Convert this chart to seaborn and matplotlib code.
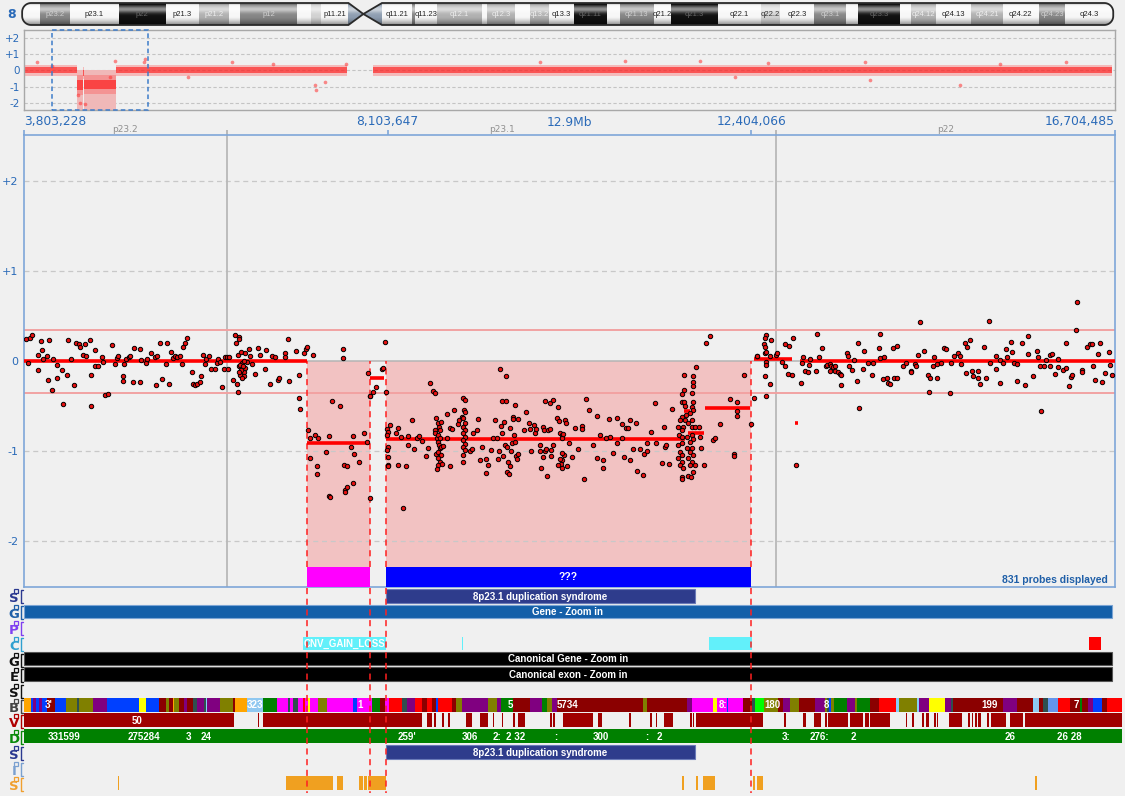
import numpy as np
import matplotlib
matplotlib.use("Agg")
import matplotlib.pyplot as plt
import matplotlib.transforms as mtrans
from matplotlib.patches import Rectangle, Polygon
import seaborn as sns

# ======================= DATA =======================
chrom = "8"
chrom_len_mb = 146.364
region_start = 3803228
region_end = 16704485

band_name = ["p23.3", "p23.2", "p23.1", "p22", "p21.3", "p21.2", "p21.1", "p12", "p11.23", "p11.22",
             "p11.21", "p11.1", "q11.1", "q11.21", "q11.22", "q11.23", "q12.1", "q12.2", "q12.3", "q13.1",
             "q13.2", "q13.3", "q21.11", "q21.12", "q21.13", "q21.2", "q21.3", "q22.1", "q22.2", "q22.3",
             "q23.1", "q23.2", "q23.3", "q24.11", "q24.12", "q24.13", "q24.21", "q24.22", "q24.23", "q24.3"]
band_start = [0.0, 2.2, 6.2, 12.7, 19.1, 23.5, 27.5, 29.0, 36.7, 38.5, 39.9, 43.6, 45.6, 48.1, 52.2, 52.6,
              55.5, 61.6, 62.2, 66.0, 68.0, 70.5, 73.9, 78.3, 80.1, 84.6, 86.9, 93.3, 99.0, 101.6, 106.2,
              110.5, 112.1, 117.7, 119.2, 122.5, 127.3, 131.5, 136.4, 139.9]
band_end = band_start[1:] + [146.364]
band_stain = ["gneg", "gpos75", "gneg", "gpos100", "gneg", "gpos50", "gneg", "gpos75", "gneg", "gpos25",
              "gneg", "acen", "acen", "gneg", "gpos75", "gneg", "gpos50", "gneg", "gpos50", "gneg",
              "gpos50", "gneg", "gpos100", "gneg", "gpos75", "gneg", "gpos100", "gneg", "gpos25", "gneg",
              "gpos75", "gneg", "gpos100", "gneg", "gpos50", "gneg", "gpos50", "gneg", "gpos75", "gneg"]

# whole-chromosome overview (segment means and spreads, Mb)
ov_seg_start = [0.15, 7.15, 7.90, 8.08, 12.40, 46.90]
ov_seg_end = [7.15, 7.90, 8.08, 12.40, 43.40, 146.20]
ov_seg_mean = [0.00, -0.90, -0.15, -0.88, 0.00, 0.00]
ov_seg_sd = [0.18, 0.30, 0.18, 0.30, 0.18, 0.18]
ov_out_mb = [1.7, 3.8, 7.26, 7.53, 8.2, 11.6, 12.2, 16.1, 16.2, 22.0, 27.9, 33.5, 39.1, 39.25, 40.4, 43.3,
             69.3, 80.8, 90.9, 95.5, 100.0, 113.0, 113.7, 125.8, 131.2, 140.0]
ov_out_val = [0.55, 0.3, -1.5, -2.0, -2.1, -0.4, 0.6, 0.55, 0.7, -0.4, 0.5, 0.4, -0.9, -1.2, -0.7, 0.4,
              0.5, 0.6, 0.6, -0.4, 0.45, 0.5, -0.6, -0.9, 0.4, 0.5]

# probes in the zoomed window (position Mb, log2 ratio)
probe_mb = [
 3.83, 3.87, 3.90, 3.85, 3.97, 3.97, 4.01, 4.02, 4.03, 4.08, 4.09, 4.10, 4.13, 4.15, 4.19, 4.19, 4.25, 4.26,
 4.31, 4.32, 4.36, 4.39, 4.42, 4.45, 4.47, 4.50, 4.52, 4.54, 4.58, 4.59, 4.60, 4.64, 4.64, 4.68, 4.72, 4.74,
 4.76, 4.80, 4.84, 4.88, 4.90, 4.92, 4.97, 4.97, 4.99, 5.01, 5.04, 5.06, 5.09, 5.10, 5.17, 5.18, 5.19, 5.25,
 5.26, 5.31, 5.35, 5.37, 5.38, 5.41, 5.44, 5.48, 5.50, 5.52, 5.54, 5.57, 5.59, 5.61, 5.65, 5.67, 5.68, 5.71,
 5.73, 5.79, 5.80, 5.82, 5.85, 5.88, 5.90, 5.92, 5.94, 5.96, 5.99, 6.02, 6.06, 6.08, 6.10, 6.12, 6.14, 6.17,
 6.18, 6.20, 6.22, 6.23, 6.28, 6.30, 6.31, 6.32, 6.33, 6.34, 6.35, 6.33, 6.35, 6.36, 6.38, 6.40, 6.40, 6.42,
 6.44, 6.46, 6.48, 6.50, 6.53, 6.57, 6.59, 6.65, 6.67, 6.71, 6.74, 6.77, 6.81, 6.82, 6.89, 6.89, 6.92, 6.94,
 7.02, 7.06, 7.06, 7.07, 7.11, 7.14, 7.15, 7.22, 6.36, 6.37, 6.39, 6.41, 6.34, 6.38, 6.37, 6.42,
 7.16, 7.19, 7.19, 7.24, 7.27, 7.27, 7.28, 7.37, 7.41, 7.41, 7.42, 7.44, 7.54, 7.58, 7.58, 7.59, 7.60, 7.60,
 7.62, 7.62, 7.67, 7.69, 7.69, 7.70, 7.76, 7.82, 7.86, 7.87, 7.89, 7.89,
 7.90, 7.93, 7.97, 8.04, 8.07, 8.08, 8.05,
 8.10, 8.11, 8.10, 8.11, 8.10, 8.11, 8.11, 8.11, 8.13, 8.20, 8.23, 8.23, 8.26, 8.29, 8.32, 8.35, 8.35, 8.39,
 8.41, 8.45, 8.47, 8.51, 8.56, 8.58, 8.61, 8.64, 8.66, 8.66, 8.66, 8.68, 8.68, 8.69, 8.70, 8.71, 8.72, 8.73,
 8.70, 8.72, 8.70, 8.71, 8.72, 8.70, 8.73, 8.70, 8.72, 8.70, 8.69, 8.74, 8.75, 8.76, 8.80, 8.80, 8.84, 8.84,
 8.86, 8.89, 8.93, 8.95, 8.98, 9.00, 9.02, 9.01, 9.02, 9.00, 9.02, 9.00, 9.02, 9.00, 9.02, 9.00, 9.02, 9.00,
 9.02, 8.99, 9.00, 9.08, 9.10, 9.11, 9.16, 9.17, 9.20, 9.22, 9.27, 9.27, 9.29, 9.32, 9.35, 9.37, 9.40, 9.41,
 9.42, 9.43, 9.44, 9.45, 9.46, 9.47, 9.48, 9.49, 9.50, 9.50, 9.51, 9.52, 9.53, 9.54, 9.55, 9.55, 9.56, 9.57,
 9.58, 9.59, 9.60, 9.61, 9.61, 9.62, 9.63, 9.64, 9.65, 9.71, 9.74, 9.77, 9.79, 9.80, 9.83, 9.85, 9.86, 9.90,
 9.91, 9.92, 9.94, 9.94, 9.95, 9.96, 9.97, 9.98, 9.99, 10.00, 10.02, 10.02, 10.03, 10.04, 10.06, 10.06,
 10.11, 10.12, 10.13, 10.14, 10.16, 10.17, 10.18, 10.19, 10.16, 10.17, 10.15, 10.12, 10.16, 10.14, 10.20,
 10.21, 10.23, 10.25, 10.28, 10.32, 10.36, 10.40, 10.40, 10.42, 10.45, 10.49, 10.53, 10.58, 10.58, 10.61,
 10.65, 10.65, 10.69, 10.72, 10.73, 10.77, 10.82, 10.82,
 10.87, 10.92, 10.94, 10.97, 11.04, 10.88, 11.01, 10.90, 10.97, 11.05, 11.09, 11.13, 11.12, 11.17, 11.17,
 11.22, 11.26, 11.28, 11.37, 11.38, 11.40, 11.35, 11.43, 11.47,
 11.61, 11.75, 11.72, 11.72, 11.71, 11.70, 11.61, 11.59, 11.58, 11.61, 11.62, 11.72, 11.70, 11.72, 11.68,
 11.63, 11.58, 11.56, 11.62, 11.70, 11.66, 11.60, 11.54, 11.58, 11.70, 11.74, 11.55, 11.58, 11.64, 11.70,
 11.72, 11.58, 11.54, 11.68, 11.64, 11.70, 11.56, 11.68, 11.58, 11.72, 11.54, 11.66, 11.58, 11.70, 11.56,
 11.68, 11.60, 11.74, 11.72, 11.58, 11.58, 11.66, 11.69,
 11.79, 11.80, 11.81, 11.85, 11.87, 11.92, 11.95, 11.98, 12.03, 12.15, 12.24, 12.24, 12.24, 12.20, 12.20,
 12.32, 12.40, 12.44, 12.58, 12.47, 12.47, 12.56, 12.58, 12.56, 12.55, 12.57, 12.58, 12.58, 12.58, 12.57,
 12.62, 12.64, 12.62, 12.70, 12.71, 12.77, 12.80, 12.80, 12.85, 12.84, 12.88, 12.90, 12.99, 13.01, 13.00,
 13.04, 13.07, 13.09, 13.10, 13.18, 13.17, 13.20, 12.93,
 13.24, 13.29, 13.30, 13.33, 13.34, 13.35, 13.37, 13.39, 13.39, 13.43, 13.45, 13.47, 13.46, 13.53, 13.55,
 13.56, 13.59, 13.62, 13.65, 13.67, 13.68, 13.72, 13.74, 13.78, 13.83, 13.84, 13.91, 13.93, 13.93, 13.96,
 13.97, 14.01, 14.02, 14.04, 14.08, 14.09, 14.13, 14.13, 14.20, 14.23, 14.29, 14.29, 14.34, 14.35, 14.38,
 14.40, 14.45, 14.49, 14.50, 14.52, 14.55, 14.56, 14.60, 14.60, 14.65, 14.68, 14.71, 14.75, 14.77, 14.80,
 14.85, 14.87, 14.88, 14.93, 14.94, 14.96, 14.99, 15.01, 15.02, 15.09, 15.09, 15.11, 15.16, 15.18, 15.22,
 15.23, 15.30, 15.30, 15.34, 15.35, 15.38, 15.42, 15.43, 15.47, 15.49, 15.51, 15.54, 15.55, 15.60, 15.64,
 15.67, 15.67, 15.74, 15.78, 15.79, 15.82, 15.83, 15.86, 15.89, 15.94, 15.94, 15.96, 16.00, 16.03, 16.03,
 16.09, 16.12, 16.13, 16.16, 16.19, 16.20, 16.24, 16.26, 16.32, 16.32, 16.37, 16.41, 16.43, 16.45, 16.47,
 16.50, 16.53, 16.55, 16.59, 16.63, 16.65, 16.67]
probe_log2 = [
 0.24, 0.25, 0.29, -0.02, 0.07, -0.10, 0.22, 0.12, 0.02, 0.06, -0.21, 0.23, -0.32, 0.02, -0.04, -0.19, -0.10, -0.48,
 -0.16, 0.23, 0.02, -0.27, 0.20, 0.19, 0.15, 0.07, 0.19, 0.05, 0.23, -0.50, -0.15, 0.12, -0.05, -0.06, 0.04, -0.01,
 -0.38, -0.37, 0.18, -0.03, 0.03, 0.06, -0.17, -0.22, -0.03, 0.02, 0.04, 0.06, -0.23, 0.14, 0.13, -0.23, 0.01, -0.02,
 0.02, 0.09, 0.04, -0.27, 0.06, 0.20, -0.20, -0.03, 0.20, -0.25, 0.10, 0.03, 0.06, 0.04, 0.06, -0.03, 0.15, 0.20,
 0.26, -0.12, -0.25, -0.27, -0.25, -0.23, -0.17, 0.07, -0.03, 0.02, 0.06, -0.09, -0.09, -0.02, 0.02, -0.01, -0.29, -0.09,
 0.04, 0.04, -0.09, 0.04, -0.21, 0.29, 0.20, -0.25, -0.34, 0.27, 0.24, 0.07, -0.06, -0.15, -0.02, -0.12, -0.17, -0.08,
 -0.01, 0.13, 0.06, -0.03, -0.14, 0.14, 0.07, -0.09, 0.12, -0.26, 0.06, 0.04, -0.21, -0.19, 0.09, 0.04, 0.24, -0.22,
 0.11, -0.15, -0.41, -0.53, 0.09, 0.13, 0.16, 0.07, -0.04, -0.10, -0.05, 0.00, -0.12, -0.19, 0.10, 0.09,
 -0.77, -0.86, -1.08, -0.82, -1.17, -1.25, -0.86, -1.01, -0.83, -1.50, -1.51, -0.44, -0.50, 0.13, 0.03, -1.16, -1.43, -1.45,
 -1.17, -1.40, -0.95, -0.83, -1.36, -1.03, -1.12, -0.80, -0.90, -0.13, -0.39, -1.52,
 -0.39, -0.34, -0.29, -0.09, 0.21, -0.34, -0.08,
 -0.75, -0.79, -0.82, -0.95, -0.99, -1.07, -1.16, -1.17, -0.71, -0.80, -0.74, -1.16, -0.84, -1.63, -1.17, -0.83, -0.93, -0.66,
 -0.98, -0.85, -0.83, -0.89, -1.05, -0.97, -0.24, -0.33, -0.35, -0.77, -0.80, -0.63, -1.03, -0.86, -0.69, -0.73, -0.77, -0.68,
 -0.82, -0.86, -0.90, -0.93, -0.97, -1.01, -1.04, -1.08, -1.12, -1.16, -1.20, -0.95, -1.14, -0.94, -0.86, -0.59, -1.17, -0.74,
 -0.76, -0.54, -0.70, -0.65, -0.62, -0.41, -0.43, -0.54, -0.57, -0.63, -0.69, -0.73, -0.77, -0.80, -0.84, -0.88, -0.92, -0.96,
 -0.99, -1.04, -1.12, -1.00, -0.98, -0.80, -0.77, -0.64, -1.10, -0.96, -1.09, -1.24, -1.16, -0.99, -0.86, -0.66, -0.86, -1.09,
 -1.00, -0.09, -0.72, -0.80, -0.44, -1.06, -0.68, -0.93, -0.17, -0.44, -0.95, -1.23, -1.12, -1.25, -1.17, -0.74, -1.00, -0.91,
 -0.62, -0.64, -0.82, -0.49, -0.90, -1.06, -1.09, -1.03, -0.64, -0.77, -0.57, -0.69, -0.75, -1.00, -0.71, -0.80, -0.76, -0.93,
 -1.00, -1.19, -1.07, -0.73, -0.77, -1.00, -0.44, -0.98, -1.28, -0.77, -0.47, -0.76, -1.06, -0.99, -0.43, -0.93,
 -0.63, -0.51, -0.67, -0.80, -0.82, -0.86, -0.81, -1.04, -1.10, -1.02, -1.14, -1.16, -1.19, -1.09, -0.66,
 -0.69, -1.17, -0.91, -1.07, -0.74, -0.98, -0.72, -0.76, -1.31, -0.42, -0.54, -0.93, -0.61, -1.08, -0.82,
 -1.10, -1.19, -0.86, -0.64, -0.84, -1.02, -0.63, -0.91,
 -0.70, -0.74, -0.74, -0.66, -0.69, -0.86, -0.98, -1.07, -1.10, -1.22, -0.98, -1.03, -1.27, -1.00, -0.91,
 -0.79, -0.47, -0.91, -0.73, -0.95, -0.93, -1.13, -1.14, -0.53,
 -0.16, -0.07, -0.17, -0.23, -0.28, -0.35, -0.32, -0.37, -0.45, -0.45, -0.50, -0.45, -0.51, -0.54, -0.58,
 -0.60, -0.62, -0.66, -0.66, -0.66, -0.69, -0.73, -0.73, -0.77, -0.73, -0.73, -0.82, -0.84, -0.84, -0.82,
 -0.87, -0.91, -0.93, -0.90, -0.97, -0.97, -1.01, -1.01, -1.04, -1.04, -1.08, -1.08, -1.12, -1.12, -1.16,
 -1.16, -1.19, -1.16, -1.23, -1.29, -1.31, -1.28, -1.29,
 -0.73, -0.84, -0.97, -1.16, 0.20, 0.28, -0.88, -0.86, -0.70, -0.42, -0.45, -0.55, -0.61, -1.03, -1.06,
 -0.16, -0.70, -0.41, -0.39, 0.06, 0.05, 0.09, 0.29, 0.26, 0.19, 0.15, 0.10, -0.01, -0.04, -0.17,
 -0.25, 0.23, 0.06, 0.07, 0.09, -0.01, -0.05, 0.19, 0.17, -0.14, -0.16, 0.26, -0.24, 0.04, -0.02,
 -0.11, -0.12, -0.04, 0.02, 0.30, -0.11, 0.04, -1.16,
 0.14, -0.06, -0.04, -0.11, -0.03, -0.06, -0.07, -0.06, -0.11, -0.12, -0.14, -0.27, -0.16, 0.09, 0.05,
 -0.06, -0.10, 0.01, -0.22, 0.20, -0.52, -0.09, 0.11, -0.02, -0.16, -0.02, 0.14, 0.30, 0.03, -0.20,
 0.04, -0.19, -0.24, -0.25, 0.14, -0.19, 0.17, -0.19, -0.06, -0.02, -0.11, -0.12, -0.03, -0.06, 0.07,
 0.43, 0.11, -0.16, -0.34, -0.19, -0.06, 0.04, -0.03, -0.19, -0.02, 0.14, 0.13, -0.36, -0.02, 0.05,
 0.09, 0.05, -0.03, 0.20, -0.13, 0.15, 0.23, -0.11, -0.17, -0.11, -0.19, -0.25, 0.16, -0.19, 0.44,
 -0.02, 0.06, -0.09, 0.01, -0.24, -0.02, 0.13, 0.04, 0.21, 0.10, -0.02, -0.03, -0.22, 0.20, -0.27,
 0.08, 0.28, -0.17, 0.11, 0.04, -0.06, -0.55, -0.06, 0.01, 0.07, -0.06, 0.08, -0.14, 0.02, -0.07,
 -0.10, -0.08, 0.20, -0.28, -0.18, -0.16, 0.34, 0.66, -0.10, -0.12, 0.16, 0.19, 0.19, -0.06, -0.21,
 0.08, 0.20, -0.23, -0.13, 0.10, -0.04, -0.16]

# segmentation (start Mb, end Mb, mean log2)
seg_start = [3.803, 7.149, 7.894, 8.083, 11.61, 11.66, 11.86, 12.43, 12.92, 12.98]
seg_end = [7.149, 7.894, 8.060, 11.62, 11.68, 11.84, 12.39, 12.88, 12.96, 16.704]
seg_mean = [0.00, -0.91, -0.19, -0.87, -0.55, -0.80, -0.52, 0.02, -0.69, 0.00]

# called aberrations
call_start = [7.149, 8.083]
call_end = [7.894, 12.400]
call_kind = ["loss", "loss_unknown"]
call_text = ["", "???"]
threshold_hi = 0.344
threshold_lo = -0.356
probe_count = 831

# annotation tracks
track_letters = ["S", "G", "P", "C", "G", "E", "S", "B", "V", "D", "S", "I", "S"]
syndrome_start, syndrome_end = 8.084, 11.737
syndrome_name = "8p23.1 duplication syndrome"
gene_start, gene_end = 3.803, 16.669
cnv_start = [7.102, 8.978, 11.903]
cnv_end = [8.084, 8.990, 12.412]
cnv_label = ["CNV_GAIN_LOSS", "", ""]
cnv_red_start, cnv_red_end = 16.397, 16.539

b_start = [3.803, 3.883, 3.913, 3.945, 3.984, 4.012, 4.072, 4.170, 4.300, 4.434, 4.454, 4.623, 4.781, 5.167,
           5.242, 5.403, 5.482, 5.521, 5.562, 5.577, 5.636, 5.695, 5.734, 5.798, 5.845, 5.932, 5.955, 5.971,
           6.121, 6.278, 6.298, 6.444, 6.633, 6.799, 6.929, 6.949, 6.988, 7.047, 7.106, 7.126, 7.165, 7.185,
           7.283, 7.390, 7.697, 7.737, 7.915, 8.013, 8.072, 8.114, 8.269, 8.329, 8.427, 8.506, 8.565, 8.624,
           8.675, 8.702, 8.861, 8.912, 8.979, 9.293, 9.400, 9.440, 9.589, 9.787, 9.925, 9.984, 10.043, 10.102,
           11.126, 11.166, 11.639, 11.699, 11.954, 11.994, 12.112, 12.131, 12.309, 12.408, 12.447, 12.553,
           12.722, 12.781, 12.861, 12.971, 13.156, 13.275, 13.302, 13.326, 13.342, 13.381, 13.532, 13.630,
           13.657, 13.807, 13.917, 14.115, 14.154, 14.366, 14.390, 14.508, 14.694, 14.761, 14.792, 15.383,
           15.541, 15.731, 15.758, 15.809, 15.856, 15.915, 16.034, 16.172, 16.290, 16.310, 16.388, 16.440,
           16.547, 16.606]
b_end_last = 16.787
b_cat = ["OR", "BL", "PU", "BL", "PU", "BL", "DR", "BL", "OL", "DS", "OL", "PU", "BL", "YE",
         "BL", "DR", "OL", "DR", "OR", "OL", "DR", "PU", "DR", "DS", "PU", "DS", "LB", "PU",
         "OL", "DR", "OR", "SK", "GR", "MA", "DS", "MA", "DS", "MA", "RE", "MA", "YE", "MA",
         "OL", "MA", "BL", "MA", "GR", "DR", "MA", "RE", "DS", "PU", "RE", "DR", "RE", "DR",
         "BL", "RE", "DR", "OL", "PU", "OL", "PU", "GR", "DR", "PU", "GR", "OL", "PU", "DR",
         "OL", "DR", "PU", "MA", "YE", "MA", "BL", "MA", "DR", "DS", "LI", "OL",
         "DR", "PU", "OL", "DR", "PU", "OL", "DS", "BL", "OL", "GR", "PU", "OL",
         "GR", "DR", "RE", "LB", "OL", "LB", "PU", "YE", "PU", "DS", "DR", "PU",
         "DR", "LB", "SK", "DR", "DS", "CF", "RE", "DR", "GR", "DR", "PU", "BL",
         "DR", "RE"]
b_text_mb = [4.10, 6.535, 7.776, 9.55, 10.236, 12.07, 12.65, 13.29, 15.226, 16.25]
b_text = ["3'", "323", "1", "5", "5734", "8:", "180", "8", "199", "7"]

v_start = [3.803, 6.570, 6.629, 8.569, 8.655, 8.743, 8.821, 9.030, 9.195, 9.346, 9.452, 9.589, 9.648, 10.023,
           10.062, 10.173, 10.594, 10.961, 11.206, 11.277, 11.371, 11.679, 11.718, 11.746, 12.794, 13.012,
           13.145, 13.275, 13.314, 13.571, 13.748, 13.775, 13.807, 14.229, 14.307, 14.426, 14.466, 14.567,
           14.596, 14.745, 14.970, 15.010, 15.049, 15.088, 15.187, 15.234, 15.463, 15.640]
v_end = [6.286, 6.588, 8.510, 8.628, 8.672, 8.770, 8.841, 9.101, 9.294, 9.361, 9.471, 9.609, 9.728, 10.043,
         10.082, 10.528, 10.634, 10.977, 11.226, 11.292, 11.481, 11.699, 11.730, 12.538, 12.814, 13.051,
         13.224, 13.302, 13.550, 13.728, 13.768, 13.799, 14.044, 14.249, 14.328, 14.446, 14.508, 14.584,
         14.615, 14.892, 14.990, 15.029, 15.069, 15.116, 15.218, 15.415, 15.613, 16.787]
v_text_mb, v_text = 5.14, "50"

d_start, d_end = 3.803, 16.787
d_text_mb = [4.276, 5.222, 5.754, 5.955, 8.332, 9.071, 9.397, 9.621, 10.094, 10.626, 11.170, 11.312,
             12.820, 13.210, 13.606, 15.463, 16.166]
d_text = ["331599", "275284", "3", "24", "259'", "306", "2:", "2 32", ":", "300", ":", "2",
          "3:", "276:", "2", "26", "26 28"]

o_start = [4.909, 6.901, 7.504, 7.764, 7.824, 7.871, 11.584, 11.750, 11.832, 12.424, 12.471, 15.758]
o_end = [4.921, 7.457, 7.575, 7.812, 7.859, 8.084, 11.602, 11.773, 11.974, 12.447, 12.542, 15.782]

# ======================= STYLE =======================
sns.set_theme(style="white")
plt.rcParams["font.family"] = ["Liberation Sans", "DejaVu Sans"]

W, H = 1125, 796
BG = "#f0f0f0"
TXT_BLUE = "#2a6ab8"
SPINE_BLUE = "#7ea6d8"
stain_col = {"gneg": "#f7f7f7", "gpos25": "#d2d2d2", "gpos50": "#b0b0b0", "gpos75": "#858585",
             "gpos100": "#101010", "acen": "#8d9db0"}
stain_txt = {"gneg": "#222222", "gpos25": "#333333", "gpos50": "#eeeeee", "gpos75": "#d0d0d0",
             "gpos100": "#666666", "acen": "#000000"}
b_colors = {"OR": "#ffa500", "BL": "#0040ff", "PU": "#800080", "DR": "#8b0000", "OL": "#808000",
            "DS": "#2f4f4f", "YE": "#ffff00", "LB": "#87cefa", "SK": "#90c8f0", "GR": "#008000",
            "MA": "#ff00ff", "RE": "#ff0000", "LI": "#00ff00", "CF": "#6495ed"}
track_colors = ["#2b3990", "#1f5fa8", "#8040f0", "#30a0d0", "#111111", "#111111", "#111111",
                "#444444", "#b00000", "#0a8a0a", "#2b3990", "#7aa0d0", "#f0a030"]
row_top = [0, 16, 32, 48, 64, 79, 95, 110, 125, 141, 157, 173, 188]

fig = plt.figure(figsize=(W / 100, H / 100), dpi=100)
fig.patch.set_facecolor(BG)


def px_box(x0, y0, x1, y1):
    return [x0 / W, 1 - y1 / H, (x1 - x0) / W, (y1 - y0) / H]


# ---------------- ideogram ----------------
OV_X0, OV_X1 = 0.0, 146.6
ov_px_per_mb = 1091 / (OV_X1 - OV_X0)
ax_id = fig.add_axes(px_box(0, 2, W, 27))
ax_id.axis("off")
yb, yt, ym = 0.08, 0.96, 0.52
rx, ry = 9 / ov_px_per_mb, 0.36


def arc(cx, cy, a0, a1, n=14):
    t = np.radians(np.linspace(a0, a1, n))
    return list(zip(cx + rx * np.cos(t), cy + ry * np.sin(t)))


cen = [s for s, st in zip(band_start, band_stain) if st == "acen"]
cen_s, cen_m = cen[0], cen[1]
cen_e = [e for e, st in zip(band_end, band_stain) if st == "acen"][-1]
x0c, x1c = -0.25, chrom_len_mb
pts = [(cen_s, yt)] + arc(x0c + rx, yt - ry, 90, 180) + arc(x0c + rx, yb + ry, 180, 270)
pts += [(cen_s, yb), (cen_m, ym), (cen_e, yb)]
pts += arc(x1c - rx, yb + ry, 270, 360) + arc(x1c - rx, yt - ry, 0, 90)
pts += [(cen_e, yt), (cen_m, ym)]
outline = Polygon(pts, closed=True, fill=False, edgecolor="#2a2a2a", lw=1.3, zorder=6)
ax_id.add_patch(outline)
clip_poly = Polygon(pts, closed=True, fill=False, edgecolor="none")
ax_id.add_patch(clip_poly)
for nm, s, e, st in zip(band_name, band_start, band_end, band_stain):
    s2 = x0c if s == 0 else s
    r = Rectangle((s2, yb - 0.02), e - s2, yt - yb + 0.04, facecolor=stain_col[st], edgecolor="none", zorder=2)
    ax_id.add_patch(r)
    r.set_clip_path(clip_poly)
    if st != "acen" and (e - s) >= 2.25 and s > 0:
        ax_id.text((s + e) / 2, 0.5, nm, ha="center", va="center", fontsize=5.5, color=stain_txt[st], zorder=5)
tt = np.linspace(0, 1, 60)
shade = np.zeros((60, 1, 4))
wa = 0.55 * np.exp(-((tt - 0.28) / 0.16) ** 2)
da = 0.45 * np.clip((tt - 0.62) / 0.38, 0, 1) ** 1.5 + 0.25 * np.clip((0.12 - tt) / 0.12, 0, 1)
shade[:, 0, :3] = np.where(wa[:, None] > da[:, None], 1.0, 0.0)
shade[:, 0, 3] = np.maximum(wa, da)
im = ax_id.imshow(shade, extent=(x0c, x1c, yb, yt), aspect="auto", zorder=4, interpolation="bilinear")
im.set_clip_path(clip_poly)
ax_id.set_xlim(OV_X0 - 24 / ov_px_per_mb, OV_X0 + (W - 24) / ov_px_per_mb)
ax_id.set_ylim(0, 1)
fig.text(12 / W, 1 - 14 / H, chrom, ha="center", va="center", fontsize=9, fontweight="bold", color=TXT_BLUE,
         family="DejaVu Sans")

# ---------------- overview ----------------
ax_ov = fig.add_axes(px_box(24, 30, 1115, 110))
ax_ov.set_facecolor(BG)
ax_ov.set_xlim(OV_X0, OV_X1)
ax_ov.set_ylim(-2.45, 2.5)
for yv in [-2, -1, 0, 1, 2]:
    ax_ov.axhline(yv, color="#c4c4c4", lw=0.8, ls=(0, (3, 2)), zorder=0.5)
for s, e in zip(call_start, call_end):
    ax_ov.add_patch(Rectangle((s, -2.45), e - s, 2.45, facecolor="#f0b8b8", edgecolor="none", zorder=1))
for s, e, m, sd in zip(ov_seg_start, ov_seg_end, ov_seg_mean, ov_seg_sd):
    ax_ov.fill_between([s, e], [m - 2 * sd] * 2, [m + 2 * sd] * 2, color="#ff4040", alpha=0.3, lw=0, zorder=2)
    ax_ov.fill_between([s, e], [m - sd] * 2, [m + sd] * 2, color="#ff1010", alpha=0.6, lw=0, zorder=2)
sns.scatterplot(x=ov_out_mb, y=ov_out_val, ax=ax_ov, color="#ff3030", s=7, alpha=0.55, linewidth=0,
                legend=False, zorder=3)
ax_ov.add_patch(Rectangle((region_start / 1e6, -2.45), (region_end - region_start) / 1e6, 4.95,
                          fill=False, edgecolor="#3d7cc9", lw=1.1, ls=(0, (3, 2)), zorder=5, clip_on=False))
ax_ov.set_xticks([])
ax_ov.set_yticks([-2, -1, 0, 1, 2])
ax_ov.set_yticklabels(["-2", "-1", "0", "+1", "+2"], color=TXT_BLUE, fontsize=7.5, family="DejaVu Sans")
ax_ov.tick_params(axis="y", length=0, pad=3)
for sp in ax_ov.spines.values():
    sp.set_color("#a8a8a8")
    sp.set_linewidth(1)

# ---------------- main zoom plot ----------------
rs, re_ = region_start / 1e6, region_end / 1e6
ax = fig.add_axes(px_box(24, 135, 1115, 587))
ax.set_facecolor(BG)
ax.set_xlim(rs, re_)
ax.set_ylim(-2.51, 2.51)
bar_top = -2.29
for yv in [-2, -1, 1, 2]:
    ax.axhline(yv, color="#c8c8c8", lw=0.9, ls=(0, (4, 3)), zorder=1)
for s, e, k in zip(call_start, call_end, call_kind):
    ax.add_patch(Rectangle((s, bar_top), e - s, -bar_top, facecolor="#f2c2c2", edgecolor="none", zorder=0.8))
ax.axhline(0, color="#b4b4b4", lw=1.1, zorder=1.2)
ax.axhline(threshold_hi, color="#f2a2a2", lw=1.4, zorder=1.5)
ax.axhline(threshold_lo, color="#f2a2a2", lw=1.4, zorder=1.5)
inband = [b for b in band_start if rs < b < re_]
for b in inband:
    ax.axvline(b, color="#b8b8b8", lw=1.3, zorder=1.1)
edges = sorted(set(call_start + call_end))
ax.vlines(edges, bar_top, 0, colors="#ff2020", lw=1.1, linestyles=(0, (4, 3)), zorder=2)
ax.hlines(seg_mean, seg_start, seg_end, colors="#ff0000", lw=2.6, zorder=3)
sns.scatterplot(x=probe_mb, y=probe_log2, ax=ax, color="#e81010", edgecolor="black", s=10,
                linewidth=0.7, legend=False, zorder=4)
bar_cols = {"loss": "#ff00ff", "loss_unknown": "#0000ff"}
for s, e, k, t in zip(call_start, call_end, call_kind, call_text):
    ax.add_patch(Rectangle((s, -2.51), e - s, 2.51 + bar_top, facecolor=bar_cols[k], edgecolor="none", zorder=5))
    if t:
        ax.text((s + e) / 2, (bar_top - 2.51) / 2, t, ha="center", va="center", color="white",
                fontsize=7.5, fontweight="bold", zorder=6)
ax.text(0.9936, 0.0155, f"{probe_count} probes displayed", transform=ax.transAxes, ha="right", va="center",
        fontsize=7.5, fontweight="bold", color="#1f5fa8", zorder=6)
ax.set_xticks([])
ax.set_yticks([-2, -1, 0, 1, 2])
ax.set_yticklabels(["-2", "-1", "0", "+1", "+2"], color=TXT_BLUE, fontsize=8, family="DejaVu Sans")
ax.tick_params(axis="y", length=0, pad=4)
for sp in ax.spines.values():
    sp.set_color(SPINE_BLUE)
    sp.set_linewidth(1.2)

# ruler above the zoom plot
ttop = mtrans.blended_transform_factory(ax.transData, ax.transAxes)
span = region_end - region_start
ticks_bp = [region_start, region_start + span // 3, region_start + 2 * span // 3, region_end]
ax.vlines([t / 1e6 for t in ticks_bp], 1.0, 1.0 + 5 / 452, transform=ttop, colors=SPINE_BLUE, lw=1.2,
          clip_on=False)
ax.vlines(inband, 1.0, 1.0 + 5 / 452, transform=ttop, colors="#b0b0b0", lw=1.2, clip_on=False)
ylab = (587 - 122) / 452
for i, t in enumerate(ticks_bp):
    ha = "left" if i == 0 else ("right" if i == len(ticks_bp) - 1 else "center")
    ax.text(t / 1e6, ylab, f"{t:,}", transform=ttop, ha=ha, va="center", fontsize=8.8, color=TXT_BLUE,
            clip_on=False, family="DejaVu Sans")
ax.text((rs + re_) / 2, ylab, f"{span / 1e6:.1f}Mb", transform=ttop, ha="center", va="center", fontsize=8.8,
        color=TXT_BLUE, clip_on=False, family="DejaVu Sans")
for nm, s, e in zip(band_name, band_start, band_end):
    if e > rs and s < re_:
        ax.text((max(s, rs) + min(e, re_)) / 2, (587 - 129) / 452, nm, transform=ttop, ha="center",
                va="center", fontsize=6.5, color="#909090", clip_on=False, family="DejaVu Sans")

# ---------------- annotation tracks ----------------
ax_tr = fig.add_axes(px_box(0, 588, W, H))
mb_per_px = (re_ - rs) / 1091
ax_tr.set_xlim(rs - 24 * mb_per_px, rs + (W - 24) * mb_per_px)
ax_tr.set_ylim(H - 588, 0)
ax_tr.axis("off")
lab_tr = mtrans.blended_transform_factory(ax_tr.transAxes, ax_tr.transData)
for letter, col, top in zip(track_letters, track_colors, row_top):
    ax_tr.text(14 / W, top + 10.5, letter, transform=lab_tr, ha="center", va="center", fontsize=9.5,
               fontweight="bold", color=col, family="DejaVu Sans")
    ax_tr.plot([16 / W], [top + 2.5], marker="s", ms=3, mfc="none", mec=col, mew=0.9, transform=lab_tr,
               clip_on=False)
    ax_tr.plot([22.5 / W, 20.5 / W, 20.5 / W, 22.5 / W], [top + 1.5, top + 1.5, top + 14.5, top + 14.5],
               color=col, lw=1, transform=lab_tr, clip_on=False)


def bar(s, e, top, h, col, text="", ec="none", fs=7):
    ax_tr.add_patch(Rectangle((s, top), e - s, h, facecolor=col, edgecolor=ec, lw=0.8, zorder=2))
    if text:
        ax_tr.text((s + e) / 2, top + h / 2 + 0.5, text, ha="center", va="center", color="white",
                   fontsize=fs, fontweight="bold", zorder=3)


bar(syndrome_start, syndrome_end, 1, 14, "#2e3c8c", syndrome_name, ec="#6a7ab8")
bar(gene_start, gene_end, 17, 13, "#135fa9", "Gene - Zoom in", ec="#7aa4d4")
for s, e, t in zip(cnv_start, cnv_end, cnv_label):
    bar(s, e, 49, 13, "#62f0fa", t)
bar(cnv_red_start, cnv_red_end, 49, 13, "#ff0000")
bar(gene_start, gene_end, 64, 13, "#000000", "Canonical Gene - Zoom in", ec="#555555")
bar(gene_start, gene_end, 79, 14, "#000000", "Canonical exon - Zoom in", ec="#555555")
b_end = b_start[1:] + [b_end_last]
for s, e, c in zip(b_start, b_end, b_cat):
    bar(s, e, 110, 14, b_colors[c])
for xm, t in zip(b_text_mb, b_text):
    ax_tr.text(xm, 117.5, t, ha="center", va="center", color="white", fontsize=7, fontweight="bold", zorder=3)
for s, e in zip(v_start, v_end):
    bar(s, e, 125, 14, "#a00000")
ax_tr.text(v_text_mb, 132.5, v_text, ha="center", va="center", color="white", fontsize=7, fontweight="bold",
           zorder=3)
bar(d_start, d_end, 141, 14, "#008000")
for xm, t in zip(d_text_mb, d_text):
    ax_tr.text(xm, 148.5, t, ha="center", va="center", color="white", fontsize=7, fontweight="bold", zorder=3)
bar(syndrome_start, syndrome_end, 157, 14, "#2e3c8c", syndrome_name, ec="#6a7ab8")
for s, e in zip(o_start, o_end):
    bar(s, e, 188, 14, "#f0a020")
ax_tr.vlines(edges, 0, 205, colors="#ff2020", lw=1.1, linestyles=(0, (4, 3)), zorder=8)

fig.savefig("out.png", dpi=100, facecolor=fig.get_facecolor())
